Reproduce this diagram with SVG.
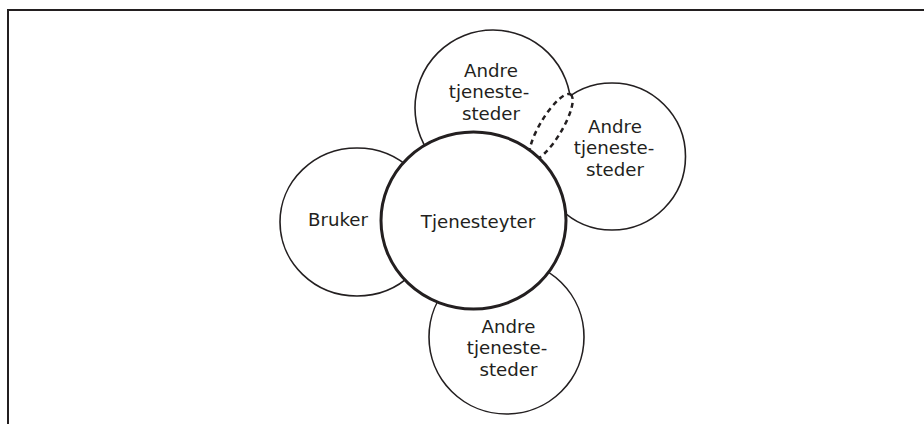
<svg xmlns="http://www.w3.org/2000/svg" width="924" height="424" viewBox="0 0 924 424">
<style>
.bg{fill:#ffffff}
.frame{fill:none;stroke:#231f20;stroke-width:2}
.c{fill:#ffffff;stroke:#231f20;stroke-width:1.6}
.main{fill:#ffffff;stroke:#231f20;stroke-width:3}
.dash{fill:#ffffff;stroke:#231f20;stroke-width:2.5;stroke-dasharray:5 4}
text{font-family:"DejaVu Sans","Liberation Sans",sans-serif;font-size:18.2px;fill:#231f20;text-anchor:middle}
</style>
<rect class="bg" x="0" y="0" width="924" height="424"/>
<path class="frame" d="M8 430 V10 H930"/>
<g id="node-andre-top">
<circle class="c" cx="493" cy="108" r="78"/>
<text x="491" y="76.5">Andre</text>
<text x="489" y="98">tjeneste-</text>
<text x="491" y="119.5">steder</text>
</g>
<g id="node-andre-right">
<circle class="c" cx="612" cy="156.5" r="73.5"/>
<text x="615" y="132.5">Andre</text>
<text x="614" y="154">tjeneste-</text>
<text x="615" y="175.5">steder</text>
</g>
<g id="connectors">
<ellipse class="dash" cx="551" cy="127" rx="38" ry="11" transform="rotate(-59 551 127)"/>
</g>
<g id="node-bruker">
<ellipse class="c" cx="357" cy="222" rx="77" ry="74"/>
<text x="338" y="226">Bruker</text>
</g>
<g id="node-andre-bottom">
<ellipse class="c" cx="506.5" cy="337" rx="77.5" ry="77"/>
<text x="508.5" y="332.5">Andre</text>
<text x="507" y="354">tjeneste-</text>
<text x="508.5" y="375.5">steder</text>
</g>
<g id="node-tjenesteyter">
<ellipse class="main" cx="473.5" cy="220.5" rx="92.5" ry="88.5"/>
<text x="478" y="228">Tjenesteyter</text>
</g>
</svg>
